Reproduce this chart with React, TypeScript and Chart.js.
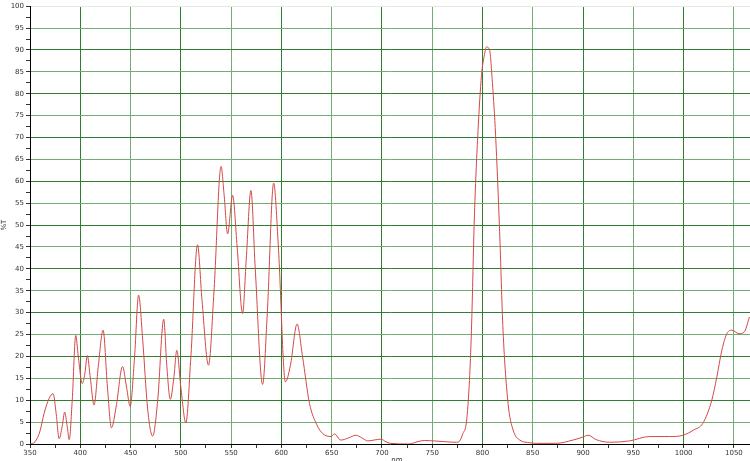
import { useRef, useEffect } from 'react'
import { Chart, registerables } from 'chart.js'

Chart.register(...registerables)

// wavelength (nm) and transmittance (%)
const wavelengths = [
  350, 355, 360, 364, 369, 373, 376, 379, 382, 384.5, 387, 389, 392, 395.5, 398, 402, 404.5, 407, 410, 413.7,
  418, 422.7, 427, 431, 436, 442, 446, 449.6, 454, 458, 462, 467, 472, 477, 483, 486, 489.5, 493, 496, 500,
  505, 510, 516.6, 521, 527.5, 533, 540, 543, 546.5, 551.5, 556, 561.4, 565, 569.7, 574, 581.3, 586, 592.3, 597, 604,
  609, 615.6, 621, 628, 635, 641, 649.5, 652.7, 659, 667, 674, 680, 686, 692, 699, 704, 708, 727, 735, 742,
  752, 764, 774, 777, 780.5, 784, 787, 789, 792, 795.5, 799, 802, 804, 807, 810, 813, 817, 820.4, 825.4, 830.4,
  837, 847, 853.5, 873, 890, 900, 905, 913, 926.5, 946, 966, 986, 999.5, 1010, 1019, 1028, 1033, 1038, 1043, 1048,
  1055, 1060, 1065.5,
]
const transmittance = [
  0, 0.5, 3, 7, 10.4, 11.5, 7, 1.2, 4, 7.3, 4, 1, 10, 24.8, 20, 13.8, 16, 20.2, 15, 8.9,
  18, 26, 13, 3.7, 9, 17.7, 13, 8.6, 20, 34, 24, 8, 1.8, 10, 28.5, 18, 10.2, 15, 21.4, 13,
  4.8, 20, 45.5, 33, 18, 35, 63.4, 57, 48, 56.8, 45, 29.8, 42, 57.9, 40, 13.6, 30, 59.6, 45, 14.2,
  18, 27.4, 20, 9.2, 4.5, 2.4, 1.7, 2.3, 0.9, 1.4, 2, 1.4, 0.7, 0.9, 1.1, 0.5, 0.15, 0, 0.5, 0.8,
  0.7, 0.5, 0.4, 0.6, 2.4, 5, 14.5, 26, 52.5, 71.4, 84.2, 89, 90.7, 90, 82, 70.6, 48.6, 26, 9.3, 3.2,
  0.9, 0.3, 0.15, 0.15, 0.9, 1.6, 2, 1, 0.4, 0.7, 1.7, 1.7, 2, 3.2, 4.7, 10, 15.3, 21.4, 25.2, 26,
  25.2, 25.5, 29,
]

const xMin = 350
const xMax = 1066
const xStep = 25
const yMin = 0
const yMax = 100
const yStep = 2.5

const range = (from: number, to: number, step: number) => {
  const out: number[] = []
  for (let v = from; v <= to + 1e-9; v += step) out.push(Math.round(v * 10) / 10)
  return out
}

const tickFont = { family: 'DejaVu Sans', size: 7 }
const darkGrid = '#2f7f2f'
const lightGrid = '#72ad72'

const titles = {
  id: 'titles',
  afterDraw(chart: Chart) {
    const { ctx, chartArea } = chart
    ctx.save()
    ctx.fillStyle = '#333'
    ctx.font = '7px "DejaVu Sans"'
    ctx.textAlign = 'center'
    ctx.textBaseline = 'middle'
    ctx.translate(4, (chartArea.top + chartArea.bottom) / 2)
    ctx.rotate(-Math.PI / 2)
    ctx.fillText('%T', 0, 0)
    ctx.restore()
    ctx.save()
    ctx.fillStyle = '#333'
    ctx.font = '7px "DejaVu Sans"'
    ctx.textAlign = 'center'
    ctx.textBaseline = 'top'
    ctx.fillText('nm', 397, 457)
    ctx.restore()
  },
}

export default function App() {
  const canvasRef = useRef<HTMLCanvasElement>(null)
  const chartRef = useRef<Chart | null>(null)

  useEffect(() => {
    if (!canvasRef.current) return
    chartRef.current?.destroy()

    chartRef.current = new Chart(canvasRef.current, {
      type: 'line',
      data: {
        datasets: [
          {
            data: wavelengths.map((w, i) => ({ x: w, y: transmittance[i] })),
            borderColor: '#d44848',
            borderWidth: 1,
            pointRadius: 0,
            cubicInterpolationMode: 'monotone',
            fill: false,
          },
        ],
      },
      options: {
        animation: false,
        responsive: true,
        maintainAspectRatio: false,
        layout: { padding: { top: 4, right: 0, left: 0, bottom: 0 } },
        plugins: {
          legend: { display: false },
          tooltip: { enabled: false },
        },
        scales: {
          x: {
            type: 'linear',
            min: xMin,
            max: xMax,
            afterBuildTicks: (scale: any) => {
              scale.ticks = range(xMin, 1050, xStep).map((value) => ({ value }))
            },
            afterFit: (scale: any) => {
              scale.height = 17
            },
            ticks: {
              autoSkip: false,
              maxRotation: 0,
              padding: 1,
              color: '#333',
              font: tickFont,
              callback: (v: any) => (Number(v) % 50 === 0 ? String(v) : ''),
            },
            grid: {
              color: (ctx: any) => {
                const v = ctx.tick?.value
                if (v === undefined || v % 50 !== 0 || v === xMin) return 'rgba(0,0,0,0)'
                return v % 100 === 0 ? darkGrid : lightGrid
              },
              tickColor: '#333',
              tickLength: 4,
              lineWidth: 1,
            },
            border: { display: true, color: '#000', width: 1 },
          },
          y: {
            min: yMin,
            max: yMax,
            afterBuildTicks: (scale: any) => {
              scale.ticks = range(yMin, yMax, yStep).map((value) => ({ value }))
            },
            afterFit: (scale: any) => {
              scale.width = 30
            },
            ticks: {
              autoSkip: false,
              padding: 2,
              color: '#333',
              font: tickFont,
              callback: (v: any) => (Number(v) % 5 === 0 ? String(v) : ''),
            },
            grid: {
              color: (ctx: any) => {
                const v = ctx.tick?.value
                if (v === undefined || v % 5 !== 0 || v === yMin) return 'rgba(0,0,0,0)'
                if (v === yMax) return '#dfeedf'
                return v % 10 === 0 ? darkGrid : lightGrid
              },
              tickColor: '#333',
              tickLength: 4,
              lineWidth: 1,
            },
            border: { display: true, color: '#000', width: 1 },
          },
        },
      },
      plugins: [titles],
    })

    return () => {
      chartRef.current?.destroy()
    }
  }, [])

  return (
    <div style={{ position: 'absolute', left: 0, top: 0, width: 750, height: 461, background: '#fff' }}>
      <canvas ref={canvasRef} />
    </div>
  )
}
